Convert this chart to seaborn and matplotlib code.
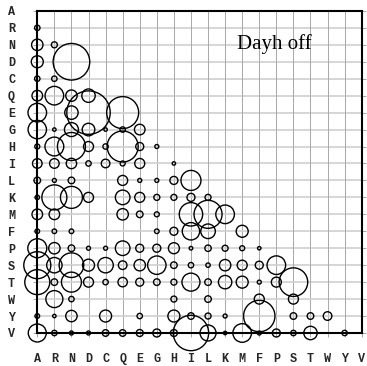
import matplotlib
matplotlib.use("Agg")
import matplotlib.pyplot as plt
import seaborn as sns
import pandas as pd

amino = ["A", "R", "N", "D", "C", "Q", "E", "G", "H", "I",
         "L", "K", "M", "F", "P", "S", "T", "W", "Y", "V"]

# estimated bubble radius (lower triangle, one list per row, columns A..previous)
row_R = [2.7]
row_N = [5.7, 3.0]
row_D = [6.0, 0, 18.3]
row_C = [2.7, 2.7, 0, 0]
row_Q = [5.3, 9.3, 5.7, 6.7, 0]
row_E = [9.3, 0, 6.7, 21.7, 0, 16.0]
row_G = [9.2, 1.7, 7.0, 6.3, 1.7, 2.7, 5.3]
row_H = [2.5, 9.4, 14.0, 5.0, 2.7, 15.5, 4.0, 2.0]
row_I = [4.8, 4.8, 5.2, 2.7, 4.3, 2.5, 5.0, 0, 1.7]
row_L = [3.3, 2.0, 3.3, 0, 0, 5.0, 2.0, 2.0, 4.0, 10.0]
row_K = [2.2, 12.5, 11.0, 5.0, 0, 7.3, 5.0, 3.0, 3.0, 4.0, 3.0]
row_M = [5.3, 5.3, 0, 0, 0, 5.7, 3.3, 2.5, 0, 11.7, 14.0, 9.3]
row_F = [2.3, 2.3, 2.3, 0, 0, 0, 0, 2.3, 4.0, 8.7, 7.3, 0, 6.0]
row_P = [9.5, 5.7, 3.3, 2.0, 2.0, 7.3, 4.0, 4.0, 5.5, 1.8, 3.2, 3.0, 2.5, 1.7]
row_S = [13.5, 7.7, 12.3, 6.0, 7.7, 4.3, 5.7, 9.2, 3.3, 2.7, 2.2, 5.7, 5.0, 4.0, 9.3]
row_T = [12.5, 3.3, 10.0, 5.0, 2.7, 4.7, 4.0, 3.3, 3.0, 9.0, 3.3, 6.7, 6.0, 2.0, 5.0, 14.3]
row_W = [0, 8.5, 2.7, 0, 0, 0, 0, 0, 3.0, 0, 3.3, 0, 0, 5.0, 0, 5.0, 0]
row_Y = [2.3, 1.7, 5.7, 0, 6.0, 0, 2.7, 0, 6.0, 3.3, 3.0, 2.0, 0, 15.7, 0, 3.3, 3.3, 4.3]
row_V = [9.0, 2.7, 2.0, 2.0, 3.3, 3.3, 3.5, 4.0, 3.5, 17.7, 8.0, 1.7, 9.3, 2.0, 4.0, 2.7, 6.7, 0, 2.7]

rows = [[], row_R, row_N, row_D, row_C, row_Q, row_E, row_G, row_H, row_I,
        row_L, row_K, row_M, row_F, row_P, row_S, row_T, row_W, row_Y, row_V]

recs = []
for i, vals in enumerate(rows):
    for j, v in enumerate(vals):
        if v > 0:
            recs.append({"x": j, "y": i, "area": v * v})
df = pd.DataFrame(recs)

sns.set_theme(style="white")
fig = plt.figure(figsize=(3.67, 3.66), dpi=100)
ax = fig.add_axes([0.1016, 0.0902, 0.8840, 0.8800])

rmax = 25.0
sns.scatterplot(data=df, x="x", y="y", size="area",
                sizes=(0, (2 * rmax * 0.72) ** 2), size_norm=(0, rmax ** 2),
                marker="o", facecolor="none", edgecolor="black",
                linewidth=1.0, legend=False, ax=ax, clip_on=False, zorder=3)

ax.set_xlim(0, 19)
ax.set_ylim(19, 0)
ax.set_xticks(range(20))
ax.set_yticks(range(20))
ax.set_xticklabels(amino, fontfamily="Liberation Mono", fontweight="bold", fontsize=8.5)
ax.set_yticklabels(amino, fontfamily="Liberation Mono", fontweight="bold", fontsize=8.5)
ax.set_xlabel("")
ax.set_ylabel("")

for i in range(20):
    ax.axhline(i, color="#cfcfcf", lw=1.2, zorder=1)
    ax.axvline(i, color="#a8a8a8", lw=0.7, zorder=1)

ax.tick_params(axis="x", bottom=True, length=3, width=0.7, color="#a8a8a8", pad=11.5)
ax.tick_params(axis="y", left=True, right=True, length=3, width=0.7, color="#a8a8a8", pad=13)
ax.tick_params(axis="y", labelright=False)

for s in ax.spines.values():
    s.set_visible(True)
    s.set_color("black")
    s.set_linewidth(1.5)
    s.set_zorder(4)

ax.text(13.9, 1.95, "Dayh off", fontfamily="Liberation Serif", fontsize=15,
        ha="center", va="center", color="black")

fig.savefig("out.png", dpi=100)
